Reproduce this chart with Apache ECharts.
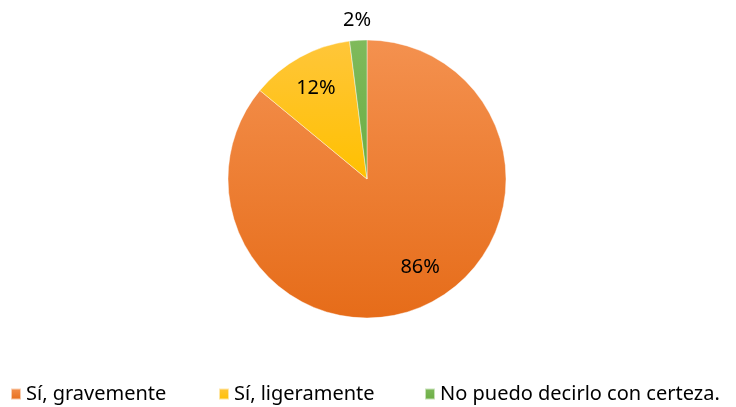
<!DOCTYPE html>
<html>
<head>
<meta charset="utf-8">
<script src="https://cdn.jsdelivr.net/npm/echarts@6/dist/echarts.min.js"></script>
<style>
  html, body { margin: 0; padding: 0; background: #fff; }
  #chart { width: 736px; height: 407px; }
</style>
</head>
<body>
<div id="chart"></div>
<script>
var categories = ['Sí, gravemente', 'Sí, ligeramente', 'No puedo decirlo con certeza.'];
var values = [86, 12, 2];
var topColors = ['#F4914F', '#FFC63A', '#7FBA5C'];
var bottomColors = ['#E66C19', '#FFC000', '#6AAD42'];
var legendLefts = [10, 218, 424];

var chartDom = document.getElementById('chart');
var myChart = echarts.init(chartDom);

var fontName = 'Noto Sans';

var pieData = [];
var labelData = [];
var legends = [];
for (var i = 0; i < categories.length; i++) {
  pieData.push({
    name: categories[i],
    value: values[i],
    itemStyle: {
      color: {
        type: 'linear', x: 0, y: 0, x2: 0, y2: 1,
        colorStops: [
          { offset: 0, color: topColors[i] },
          { offset: 1, color: bottomColors[i] }
        ]
      }
    },
    // the small slice gets its label outside
    label: i == 2 ? { show: true, position: 'outside' } : { show: false },
    labelLine: { show: false, length: 20, length2: 0 }
  });
  labelData.push({
    name: categories[i],
    value: values[i],
    label: { show: i != 2, offset: i == 0 ? [8, -8] : [0, 2] }
  });
  legends.push({
    data: [categories[i]],
    left: legendLefts[i],
    top: 384,
    padding: 0,
    icon: 'rect',
    itemWidth: 10,
    itemHeight: 11,
    textStyle: { fontFamily: fontName, fontSize: 20, color: '#000' }
  });
}

var option = {
  animation: false,
  legend: legends,
  series: [
    {
      name: 'main',
      type: 'pie',
      center: [367, 179],
      radius: [0, 139],
      startAngle: 90,
      clockwise: true,
      silent: true,
      itemStyle: { borderColor: 'rgba(255,255,255,0.6)', borderWidth: 0.7 },
      label: {
        formatter: '{d}%',
        fontFamily: fontName,
        fontSize: 20,
        color: '#000',
        distanceToLabelLine: 0
      },
      labelLayout: { align: 'center' },
      data: pieData
    },
    {
      name: 'labels',
      type: 'pie',
      center: [367, 179],
      radius: [0, 206],
      startAngle: 90,
      clockwise: true,
      silent: true,
      legendHoverLink: false,
      itemStyle: { color: 'rgba(0,0,0,0)' },
      label: {
        position: 'inside',
        formatter: '{d}%',
        fontFamily: fontName,
        fontSize: 20,
        color: '#000'
      },
      labelLine: { show: false },
      data: labelData
    }
  ]
};

myChart.setOption(option);
</script>
</body>
</html>
